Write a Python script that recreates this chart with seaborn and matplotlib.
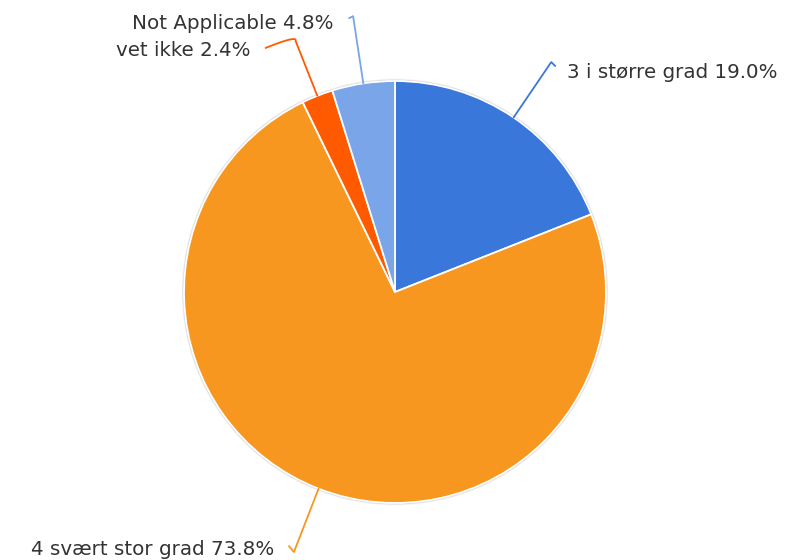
import numpy as np
import matplotlib
matplotlib.use("Agg")
import matplotlib.pyplot as plt
import seaborn as sns

# data
labels = ["3 i større grad", "4 svært stor grad", "vet ikke", "Not Applicable"]
shares = [19.0, 73.8, 2.4, 4.8]
colors = ["#3a77da", "#f7971f", "#ff5a00", "#7ba5e9"]

sns.set_theme(style="white")
plt.rcParams['font.family'] = ['DejaVu Sans']

W, H = 796, 560
fig = plt.figure(figsize=(W / 100, H / 100), dpi=100)
ax = fig.add_axes([0, 0, 1, 1])

cx, cy, R = 395, H - 292, 211

# soft grey rim around the pie
for i, a in enumerate([0.10, 0.18, 0.30]):
    ax.add_patch(plt.Circle((cx, cy), R + 2.2 - i * 0.7, color="#888888", alpha=a, lw=0, zorder=0))

wedges, _ = ax.pie(shares, colors=colors, startangle=90, counterclock=False,
                   center=(cx, cy), radius=R, normalize=True,
                   wedgeprops=dict(edgecolor="white", linewidth=1.3))
ax.set_xlim(0, W)
ax.set_ylim(0, H)
ax.set_aspect("equal")
ax.axis("off")

# label layout: radial leader length, hook end offset, text offset
layout = {
    "3 i større grad": dict(r2=278, hook=(4, -4), tx=12, ty=-6, ha="left"),
    "4 svært stor grad": dict(r2=279, hook=(-5, 6), tx=-15, ty=-3, ha="right"),
    "vet ikke": dict(r2=270, hook=(-30, -7), tx=-15, ty=-3, ha="right"),
    "Not Applicable": dict(r2=279, hook=(-4, -2), tx=-16, ty=-5, ha="right"),
}

for w, lab, val, col in zip(wedges, labels, shares, colors):
    ang = np.deg2rad((w.theta1 + w.theta2) / 2)
    lo = layout[lab]
    x1, y1 = cx + R * np.cos(ang), cy + R * np.sin(ang)
    x2, y2 = cx + lo["r2"] * np.cos(ang), cy + lo["r2"] * np.sin(ang)
    hx, hy = x2 + lo["hook"][0], y2 + lo["hook"][1]
    if lab == "vet ikke":
        t = np.linspace(0, 1, 20)
        mx, my = x2 + 2, y2 + 6
        bx = (1 - t) ** 2 * x2 + 2 * (1 - t) * t * mx + t ** 2 * hx
        by = (1 - t) ** 2 * y2 + 2 * (1 - t) * t * my + t ** 2 * hy
        ax.plot([x1] + list(bx), [y1] + list(by), color=col, lw=1.3, zorder=1)
    else:
        ax.plot([x1, x2, hx], [y1, y2, hy], color=col, lw=1.3, zorder=1)
    ax.text(hx + lo["tx"], hy + lo["ty"], f"{lab} {val:.1f}%",
            ha=lo["ha"], va="center", fontsize=14.3, color="#333333")

fig.savefig("out.png", dpi=100)
